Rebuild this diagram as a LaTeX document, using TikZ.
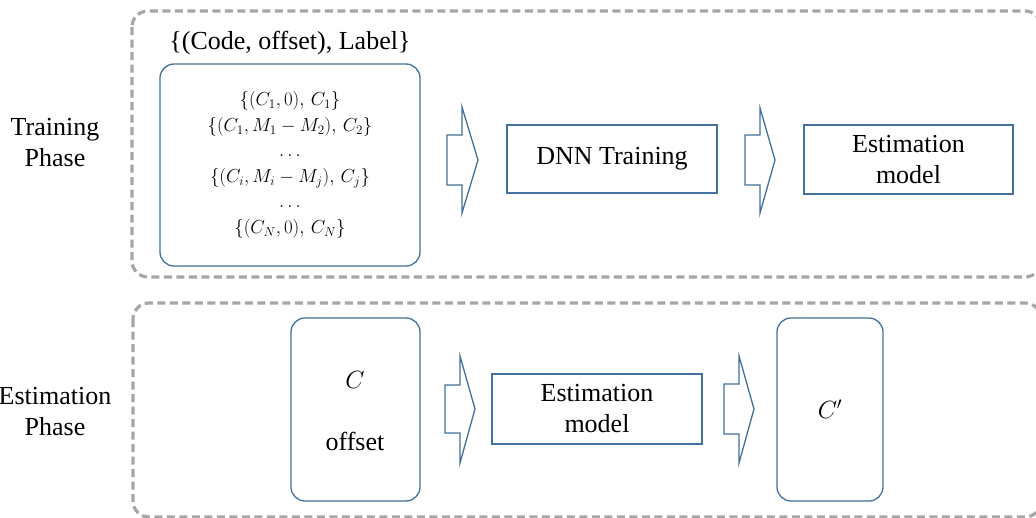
\documentclass[tikz,border=0pt]{standalone}
\usepackage{graphicx}
\usepackage{fontspec}
\setmainfont{Liberation Serif}
\definecolor{boxblue}{HTML}{41719C}
\definecolor{dashgray}{HTML}{A6A6A6}
\newcommand{\mathrowx}[1]{\scalebox{1.09}{$#1$}}
\tikzset{
  phasebox/.style={draw=dashgray, line width=3.2pt, dash pattern=on 8pt off 4.5pt, rounded corners=16pt},
  bluebox/.style={draw=boxblue, line width=1.3pt, inner sep=0pt, align=center, font=\fontsize{26}{30}\selectfont},
  roundbox/.style={bluebox, rounded corners=14pt},
  blockarrow/.style={draw=boxblue, line width=1.3pt, line join=miter},
  phaselabel/.style={align=center, font=\fontsize{26}{31}\selectfont, inner sep=0pt},
}
\begin{document}
\begin{tikzpicture}[x=1pt,y=-1pt]
\useasboundingbox (0,0) rectangle (1036,517);
\clip (0,0) rectangle (1036,517);
\fill[white] (0,0) rectangle (1036,517);

% phase frames
\draw[phasebox] (132,11) rectangle (1041,277);
\draw[phasebox] (133,303) rectangle (1041,517);

% phase labels
\node[phaselabel] (trainlbl) at (55,143) {Training\\Phase};
\node[phaselabel] (estlbl) at (55,412) {Estimation\\Phase};

% training row
\node[font=\fontsize{26}{30}\selectfont, inner sep=0pt] (settitle) at (290,43) {\{(Code, offset), Label\}};
\node[roundbox, minimum width=260pt, minimum height=202pt, font=\fontsize{17.28}{25.5}\selectfont] (data) at (290,165)
  {\mathrowx{\{(C_1,0),\,C_1\}}\\
   \mathrowx{\{(C_1,M_1-M_2),\,C_2\}}\\
   \mathrowx{\dots}\\
   \mathrowx{\{(C_i,M_i-M_j),\,C_j\}}\\
   \mathrowx{\dots}\\
   \mathrowx{\{(C_N,0),\,C_N\}}};
\node[bluebox, minimum width=210pt, minimum height=68pt] (dnn) at (612,159) {DNN Training};
\node[bluebox, minimum width=209pt, minimum height=69pt] (modeltop) at (908.5,159.5) {Estimation\\[1pt]model};

\draw[blockarrow] (447,135) -- (462,135) -- (462,107) -- (478,160) -- (462,213) -- (462,185) -- (447,185) -- cycle;
\draw[blockarrow] (745,135) -- (760,135) -- (760,108) -- (775,160) -- (760,213) -- (760,185) -- (745,185) -- cycle;

% estimation row
\node[roundbox, minimum width=129pt, minimum height=183pt] (input) at (355.5,409.5) {};
\node[font=\fontsize{26}{30}\selectfont, inner sep=0pt] (inC) at (355,380) {$C$};
\node[font=\fontsize{26}{30}\selectfont, inner sep=0pt] (inoff) at (355,441) {offset};
\node[bluebox, minimum width=210pt, minimum height=70pt] (modelbot) at (597,409) {Estimation\\[1pt]model};
\node[roundbox, minimum width=106pt, minimum height=183pt] (output) at (830,409.5) {$C'$};

\draw[blockarrow] (445,385) -- (460,385) -- (460,356) -- (475,409) -- (460,463) -- (460,433) -- (445,433) -- cycle;
\draw[blockarrow] (724,384) -- (739,384) -- (739,356) -- (754,409) -- (739,463) -- (739,434) -- (724,434) -- cycle;
\end{tikzpicture}
\end{document}
